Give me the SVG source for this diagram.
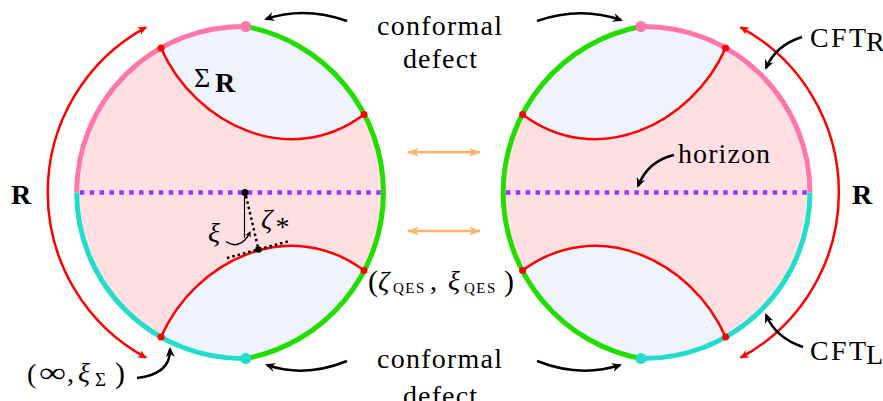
<svg xmlns="http://www.w3.org/2000/svg" xmlns:xlink="http://www.w3.org/1999/xlink" width="883" height="401" viewBox="0 0 883 401">
<defs>
<style>
.t{font-family:"Liberation Serif","Times New Roman",serif;font-size:28px;fill:#000}
.it{font-style:italic}
.bd{font-weight:bold}
.arr{fill:none;stroke:#000;stroke-width:2.5;marker-end:url(#ah)}
.red{fill:none;stroke:#ff0000;stroke-width:2.5}
.rdot{fill:#ff0000}
.edge{fill:none;stroke-width:5}
.blue{fill:#eef3fd}
.orange{fill:none;stroke:#ffb366;stroke-width:2.5;marker-start:url(#oah);marker-end:url(#oah)}
.dots{fill:none;stroke:#000;stroke-width:2.5;stroke-dasharray:2.5 3}
</style>
<marker id="ah" markerUnits="userSpaceOnUse" markerWidth="12" markerHeight="12" viewBox="0 0 12 12" refX="8" refY="6" orient="auto"><path d="M0,1.5 L10,6 L0,10.5 L3,6 Z" fill="#000"/></marker>
<marker id="sah" markerUnits="userSpaceOnUse" markerWidth="8" markerHeight="8" viewBox="0 0 8 8" refX="5" refY="4" orient="auto"><path d="M0,1 L6,4 L0,7 L2,4 Z" fill="#000"/></marker>
<marker id="rah" markerUnits="userSpaceOnUse" markerWidth="12" markerHeight="12" viewBox="0 0 12 12" refX="8" refY="6" orient="auto-start-reverse"><path d="M0,2 L9,6 L0,10 L2.5,6 Z" fill="#ff0000"/></marker>
<marker id="oah" markerUnits="userSpaceOnUse" markerWidth="14" markerHeight="12" viewBox="0 0 14 12" refX="11" refY="6" orient="auto-start-reverse"><path d="M0,1.5 L12,6 L0,10.5 L3.5,6 Z" fill="#ffb366"/></marker>
<g id="disk">
 <path d="M245.7,26.5 A168.9,168.9 0 0 1 245.7,358.5 A166,166 0 1 1 245.7,26.5 Z" fill="#ffdfe2"/>
 <path class="blue" d="M161,48 A166,166 0 0 1 245.7,26.5 A168.9,168.9 0 0 1 364,114.5 C290,170 195,125 161,48 Z"/>
 <path class="blue" d="M161,337 C195,260 290,215 364,270.5 A168.9,168.9 0 0 1 245.7,358.5 A166,166 0 0 1 161,337 Z"/>
 <path class="red" d="M161,48 C195,125 290,170 364,114.5"/>
 <path class="red" d="M161,337 C195,260 290,215 364,270.5"/>
 <line x1="79.8" y1="192.5" x2="383" y2="192.5" stroke="#9933ff" stroke-width="4.5" stroke-dasharray="4.5 5.38"/>
 <path class="edge" stroke="#ff77aa" d="M76.7,192.5 A166,166 0 0 1 245.7,26.5"/>
 <path class="edge" stroke="#22ddcc" d="M245.7,358.5 A166,166 0 0 1 76.7,192.5"/>
 <path class="edge" stroke="#22dd00" d="M245.7,26.5 A168.9,168.9 0 0 1 245.7,358.5"/>
 <circle cx="245.7" cy="26.5" r="5.5" fill="#ff77aa"/>
 <circle cx="245.7" cy="358.5" r="5.5" fill="#22ddcc"/>
 <circle class="rdot" cx="161" cy="48" r="3.5"/>
 <circle class="rdot" cx="161" cy="337" r="3.5"/>
 <circle class="rdot" cx="364" cy="114.5" r="3.5"/>
 <circle class="rdot" cx="364" cy="270.5" r="3.5"/>
 <path class="red" d="M146,27.3 A188,188 0 0 0 146,357.7" marker-start="url(#rah)" marker-end="url(#rah)"/>
</g>
</defs>

<g id="left-disk">
 <use xlink:href="#disk" href="#disk"/>
 <line x1="244.5" y1="193" x2="244.5" y2="238" stroke="#000" stroke-width="1.2"/>
 <line class="dots" x1="246" y1="196" x2="258.5" y2="249.5"/>
 <line class="dots" x1="227" y1="258" x2="288" y2="241.4"/>
 <path d="M226,241.5 C233,247 244,246 250,232" fill="none" stroke="#000" stroke-width="1.5" marker-end="url(#sah)"/>
 <circle cx="245" cy="192.5" r="3.5" fill="#000"/>
 <circle cx="258.5" cy="249.5" r="3.3" fill="#000"/>
 <text class="t" x="194" y="86.7" font-size="30">Σ</text>
 <text class="t bd" x="215" y="91.7" font-size="20">R</text>
 <text class="t it" x="208" y="242" font-size="27">ξ</text>
 <text class="t it" x="261" y="228" font-size="27">ζ</text>
 <text class="t" x="275.5" y="236" font-size="20">*</text>
</g>

<g id="right-disk">
 <use xlink:href="#disk" href="#disk" transform="matrix(-1 0 0 1 886.6 0)"/>
</g>

<g id="connectors">
 <path class="arr" d="M347,21 Q305,6 266,19"/>
 <path class="arr" d="M537,21 Q580,6 621,20"/>
 <path class="arr" d="M347,361 Q305,378 267,365"/>
 <path class="arr" d="M537,361 Q580,378 620,365"/>
 <path class="arr" d="M137,378 Q171,374 170,349"/>
 <path class="arr" d="M802,37 Q776,45 766,68"/>
 <path class="arr" d="M803,347 Q776,338 766,315"/>
 <path class="arr" d="M674,155 Q648,161 638,186"/>
 <line class="orange" x1="408" y1="152.3" x2="480" y2="152.3"/>
 <line class="orange" x1="408" y1="231" x2="480" y2="231"/>
</g>

<g id="labels">
 <text class="t" x="377" y="35" textLength="125" lengthAdjust="spacing">conformal</text>
 <text class="t" x="403" y="68" textLength="74" lengthAdjust="spacing">defect</text>
 <text class="t" x="377" y="368" textLength="125" lengthAdjust="spacing">conformal</text>
 <text class="t" x="403" y="405" textLength="74" lengthAdjust="spacing">defect</text>
 <text class="t" x="678" y="163" textLength="92" lengthAdjust="spacing">horizon</text>
 <text class="t" x="810" y="47" font-size="29" textLength="56" lengthAdjust="spacing">CFT</text>
 <text class="t" x="866" y="51" font-size="18">R</text>
 <text class="t" x="810" y="360" font-size="29" textLength="56" lengthAdjust="spacing">CFT</text>
 <text class="t" x="866" y="364" font-size="18">L</text>
 <text class="t bd" x="11" y="204" font-size="27">R</text>
 <text class="t bd" x="852" y="204" font-size="27">R</text>
 <text class="t" y="291"><tspan x="368" font-size="30">(</tspan><tspan x="378" y="290" class="it">ζ</tspan><tspan x="393" y="293.3" font-size="15" letter-spacing="1.5">QES</tspan><tspan x="430" y="290">,</tspan><tspan x="448" y="290" class="it">ξ</tspan><tspan x="464" y="293.3" font-size="15" letter-spacing="1.5">QES</tspan><tspan x="504" y="291" font-size="30">)</tspan></text>
 <text class="t" x="27" y="383" font-size="30">(</text>
 <text class="t" x="39" y="382" textLength="27" lengthAdjust="spacingAndGlyphs">∞</text>
 <text class="t" y="382"><tspan x="67">,</tspan><tspan x="78" class="it">ξ</tspan><tspan x="95" y="386" font-size="19">Σ</tspan><tspan x="115" y="383" font-size="30">)</tspan></text>
</g>
</svg>
